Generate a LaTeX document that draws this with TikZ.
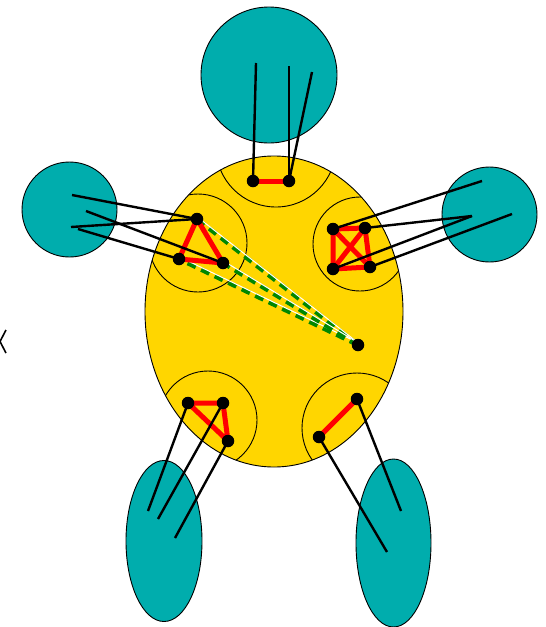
\documentclass[tikz,border=0pt]{standalone}
\definecolor{tealc}{RGB}{0,173,173}
\definecolor{goldc}{RGB}{255,214,0}
\definecolor{greenc}{RGB}{0,135,0}
\tikzset{
  blob/.style={fill=tealc, draw=black, line width=0.9pt},
  inner/.style={draw=black, line width=0.9pt},
  redge/.style={draw=red, line width=5pt},
  wire/.style={draw=black, line width=2.4pt},
  dot/.style={circle, fill=black, inner sep=0pt, minimum size=12.5pt},
  gdash/.style={draw=greenc, line width=4.4pt, dash pattern=on 9pt off 6pt},
  wline/.style={draw=white, line width=1pt}
}
\begin{document}
\begin{tikzpicture}[x=1pt,y=-1pt]
\useasboundingbox (0,0) rectangle (546,627);
% outer teal shapes
\path[blob] (269,75) circle[radius=68pt];
\path[blob] (69.5,209.5) circle[radius=47.5pt];
\path[blob] (489.5,214.5) circle[radius=47.5pt];
\path[blob] (164,541) ellipse[x radius=38pt, y radius=80.5pt];
\path[blob] (393.5,543) ellipse[x radius=37.5pt, y radius=84pt];
% central ellipse
\path[fill=goldc, draw=black, line width=0.9pt] (274,311.5) ellipse[x radius=129pt, y radius=155.5pt];
\begin{scope}
  \clip (274,311.5) ellipse[x radius=129pt, y radius=155.5pt];
  \path[inner] (276,147) circle[radius=60pt];
  \path[inner] (198,243) circle[radius=49pt];
  \path[inner] (360,244) circle[radius=47pt];
  \path[inner] (208,420) circle[radius=49pt];
  \path[inner] (357,428) circle[radius=55pt];
\end{scope}
% positions
\coordinate (t1) at (253,181); \coordinate (t2) at (289,181);
\coordinate (a1) at (197,219); \coordinate (a2) at (179,259); \coordinate (a3) at (223,263);
\coordinate (b1) at (333,229); \coordinate (b2) at (365,228); \coordinate (b3) at (333,269); \coordinate (b4) at (370,267);
\coordinate (c) at (358,345);
\coordinate (d1) at (188,403); \coordinate (d2) at (223,403); \coordinate (d3) at (228,441);
\coordinate (e1) at (357,399); \coordinate (e2) at (319,437);
% ends inside the teal shapes
\coordinate (tp1) at (256,63); \coordinate (tp2) at (289,66); \coordinate (tp3) at (312,72);
\coordinate (lp1) at (72,195); \coordinate (lp2) at (86,211); \coordinate (lp3) at (71,227); \coordinate (lp4) at (78,229);
\coordinate (rp1) at (482,181); \coordinate (rp2) at (472,216); \coordinate (rp3) at (512,214);
\coordinate (blp1) at (148,511); \coordinate (blp2) at (158,519); \coordinate (blp3) at (175,538);
\coordinate (brp1) at (401,511); \coordinate (brp2) at (387,552);
% green dashed lines with a thin white line along them
\foreach \n in {a1,a2,a3}{
  \draw[gdash] (c) -- (\n);
  \draw[wline] ([yshift=2.3pt]c) -- ([yshift=2.3pt]\n);
}
% red edges
\draw[redge] (t1) -- (t2);
\draw[redge, line join=round] (a1) -- (a2) -- (a3) -- cycle;
\draw[redge, line join=round] (b1) -- (b2) -- (b4) -- (b3) -- cycle;
\draw[redge] (b1) -- (b4);
\draw[redge] (b2) -- (b3);
\draw[redge, line join=round] (d1) -- (d2) -- (d3) -- cycle;
\draw[redge] (e1) -- (e2);
% black wires
\draw[wire] (t1) -- (tp1);
\draw[wire] (t2) -- (tp2);
\draw[wire] (t2) -- (tp3);
\draw[wire] (a1) -- (lp1);
\draw[wire] (a1) -- (lp3);
\draw[wire] (a3) -- (lp2);
\draw[wire] (a2) -- (lp4);
\draw[wire] (b1) -- (rp1);
\draw[wire] (b2) -- (rp2);
\draw[wire] (b3) -- (rp2);
\draw[wire] (b4) -- (rp3);
\draw[wire] (d1) -- (blp1);
\draw[wire] (d2) -- (blp2);
\draw[wire] (d3) -- (blp3);
\draw[wire] (e1) -- (brp1);
\draw[wire] (e2) -- (brp2);
% dots
\foreach \n in {t1,t2,a1,a2,a3,b1,b2,b3,b4,c,d1,d2,d3,e1,e2}{
  \node[dot] (N\n) at (\n) {};
}
% partial mark at left edge
\coordinate (m1) at (6,330); \coordinate (m2) at (0,341.5); \coordinate (m3) at (6,353);
\draw[black, line width=1.6pt] (m1) -- (m2) -- (m3);
\end{tikzpicture}
\end{document}
